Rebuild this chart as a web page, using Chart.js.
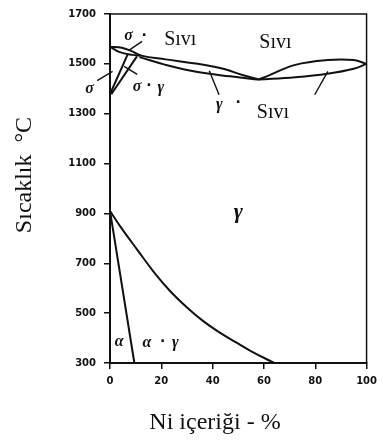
<!DOCTYPE html>
<html>
<head>
<meta charset="utf-8">
<script src="https://cdn.jsdelivr.net/npm/chart.js@4"></script>
<style>
  html, body { margin: 0; background: #fff; }
  #wrap { width: 383px; height: 445px; }
</style>
</head>
<body>
<div id="wrap"><canvas id="c"></canvas></div>
<script>
const xTicks = [0, 20, 40, 60, 80, 100];
const yTicks = [300, 500, 700, 900, 1100, 1300, 1500, 1700];

// phase boundaries, Ni % vs temperature °C
const liqLeftNi = [0, 4.6, 8.4, 12.2, 21.7, 34.2, 44.5, 52, 58];
const liqLeftT  = [1569, 1565, 1551, 1533, 1518, 1500, 1479, 1454, 1437];
const solLeftNi = [11.5, 21.7, 34.2, 46.8, 58];
const solLeftT  = [1527, 1496, 1467, 1450, 1437];
const liqRightNi = [58, 62, 72.2, 84.8, 95, 100];
const liqRightT  = [1437, 1454, 1496, 1515, 1515, 1500];
const solRightNi = [58, 72.2, 84.8, 95, 100];
const solRightT  = [1437, 1446, 1460, 1480, 1500];
const deltaSolNi = [0, 3.8, 8.7, 12.2];
const deltaSolT  = [1569, 1547, 1536, 1533];
const deltaSolvusNi = [0, 6.8];
const deltaSolvusT  = [1378, 1536];
const gammaDeltaNi = [0.5, 10.5];
const gammaDeltaT  = [1378, 1530];
const alphaNi = [0, 9.5];
const alphaT  = [910, 300];
const gammaNi = [0, 4.4, 10.8, 17.1, 23.5, 29.8, 36.1, 42.5, 48.8, 55.1, 64];
const gammaT  = [910, 842, 752, 665, 588, 525, 470, 424, 385, 347, 300];

// leader lines from labels
const leaders = [
  { ni: [7.2, 12.5], t: [1553, 1590] },
  { ni: [-5, 1], t: [1433, 1470] },
  { ni: [5.5, 10.6], t: [1490, 1458] },
  { ni: [38.7, 42.5], t: [1472, 1376] },
  { ni: [84.9, 79.8], t: [1470, 1376] },
];

// labels: text, Ni, T, kind
const labels = [
  ['σ', 7.2, 1613, 'greek'], ['·', 13.3, 1609, 'dot'], ['Sıvı', 27.4, 1598, 'word'],
  ['Sıvı', 64.5, 1586, 'word'],
  ['γ', 42.6, 1335, 'greek'], ['·', 50, 1340, 'dot'], ['Sıvı', 63.5, 1305, 'word'],
  ['σ', -8, 1400, 'greek'],
  ['σ', 10.5, 1408, 'greek'], ['·', 15.2, 1408, 'dot'], ['γ', 19.8, 1402, 'greek'],
  ['γ', 50, 904, 'big'],
  ['α', 3.6, 384, 'greek'],
  ['α', 14.4, 382, 'greek'], ['·', 20.5, 382, 'dot'], ['γ', 25.5, 380, 'greek'],
];

const pts = (xs, ys) => xs.map((x, i) => ({ x, y: ys[i] }));
const ink = '#111';

const curve = (xs, ys, tension = 0.4) => ({
  data: pts(xs, ys), showLine: true, pointRadius: 0, borderColor: ink,
  borderWidth: 2, tension, clip: false
});

const datasets = [
  curve(liqLeftNi, liqLeftT),
  curve(solLeftNi, solLeftT),
  curve(liqRightNi, liqRightT),
  curve(solRightNi, solRightT),
  curve(deltaSolNi, deltaSolT),
  curve(deltaSolvusNi, deltaSolvusT, 0),
  curve(gammaDeltaNi, gammaDeltaT, 0),
  curve(alphaNi, alphaT, 0),
  curve(gammaNi, gammaT),
  ...leaders.map(l => ({ ...curve(l.ni, l.t, 0), borderWidth: 1.4 })),
];

const fonts = {
  greek: 'bold italic 16px "Liberation Serif"',
  big: 'bold italic 22px "Liberation Serif"',
  word: '20px "Liberation Serif"',
  dot: 'bold 14px "DejaVu Sans"',
};

const decor = {
  id: 'decor',
  afterDatasetsDraw(chart) {
    const { ctx, chartArea: a, scales: { x, y } } = chart;
    ctx.save();
    ctx.strokeStyle = ink;
    ctx.lineWidth = 1.5;
    ctx.beginPath();
    ctx.moveTo(a.left, a.top); ctx.lineTo(a.right, a.top); ctx.lineTo(a.right, a.bottom);
    ctx.stroke();

    ctx.fillStyle = ink;
    ctx.textAlign = 'center';
    ctx.textBaseline = 'middle';
    labels.forEach(([s, ni, t, kind]) => {
      ctx.font = fonts[kind];
      ctx.fillText(s, x.getPixelForValue(ni), y.getPixelForValue(t));
    });

    ctx.font = '24px "Liberation Serif"';
    ctx.fillText('Ni içeriği - %', 215, 423);
    ctx.translate(25, 175);
    ctx.rotate(-Math.PI / 2);
    ctx.fillText('Sıcaklık  °C', 0, 0);
    ctx.restore();
  }
};

const tickFont = { family: 'DejaVu Sans', size: 10, weight: 'bold' };

new Chart(document.getElementById('c'), {
  type: 'scatter',
  data: { datasets },
  options: {
    responsive: true,
    maintainAspectRatio: false,
    animation: false,
    devicePixelRatio: 1,
    layout: { padding: { top: 7, right: 10, left: 0, bottom: 0 } },
    plugins: { legend: { display: false }, tooltip: { enabled: false } },
    scales: {
      x: {
        type: 'linear', min: 0, max: 100,
        afterBuildTicks: s => { s.ticks = xTicks.map(value => ({ value })); },
        afterFit: s => { s.height = 82; },
        ticks: { font: tickFont, color: ink, padding: 6, maxRotation: 0, callback: v => String(v) },
        grid: { drawOnChartArea: false, tickLength: 6, color: ink, lineWidth: 1.5 },
        border: { color: ink, width: 2 },
      },
      y: {
        type: 'linear', min: 300, max: 1700,
        afterBuildTicks: s => { s.ticks = yTicks.map(value => ({ value })); },
        afterFit: s => { s.width = 110; },
        ticks: { font: tickFont, color: ink, padding: 8, callback: v => String(v) },
        grid: { drawOnChartArea: false, tickLength: 6, color: ink, lineWidth: 1.5 },
        border: { color: ink, width: 2 },
      },
    },
  },
  plugins: [decor],
});
</script>
</body>
</html>
